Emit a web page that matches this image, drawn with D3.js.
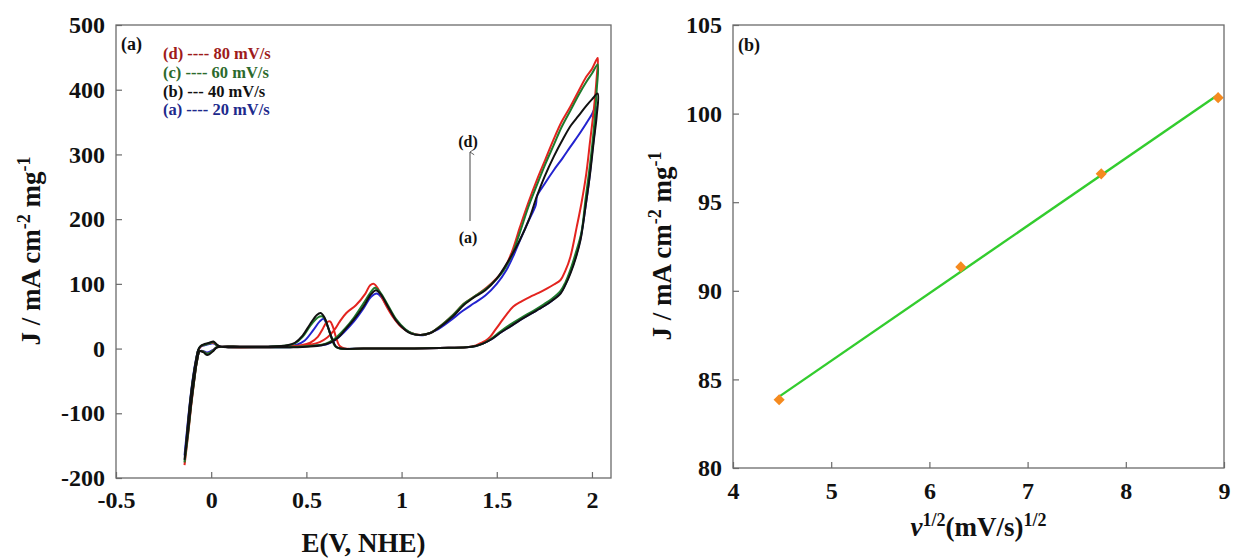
<!DOCTYPE html>
<html>
<head>
<meta charset="utf-8">
<script src="https://cdn.jsdelivr.net/npm/d3@7"></script>
<style>
  body { margin: 0; background: #fff; }
  svg { display: block; }
  text { font-family: "Liberation Serif", "Times New Roman", serif; font-weight: bold; fill: #111; }
</style>
</head>
<body>
<div id="chart"></div>
<script>
// ---- panel (a): cyclic voltammograms, [E (V), J] pairs, loop starts at the lowest potential
var cv20 = [
  [-0.14,-165],[-0.125,-120],[-0.11,-78],[-0.095,-43],[-0.08,-17],[-0.068,-2],[-0.055,3],[-0.035,5],[-0.01,7],[0.012,8],[0.03,5],[0.05,3],
  [0.1,2],[0.25,2],[0.4,2],[0.45,3],[0.52,4],[0.58,5],[0.62,8],[0.66,15],[0.7,26],[0.75,42],[0.8,62],[0.84,80],[0.87,85],[0.895,79],
  [0.93,62],[0.97,44],[1.02,29],[1.07,22],[1.12,21],[1.18,28],[1.25,42],[1.32,58],[1.38,70],[1.44,82],[1.5,100],[1.55,121],[1.59,145],
  [1.62,166],[1.665,196],[1.705,222],[1.712,236],[1.75,254],[1.8,276],[1.845,294],[1.887,312],[1.93,330],[1.97,348],[2.0,362],[2.02,374],
  [2.015,340],[2.0,300],[1.985,260],[1.966,219],[1.94,170],[1.915,142],[1.887,118],[1.86,99],[1.835,86],[1.79,74],[1.745,65],[1.68,54],
  [1.622,44],[1.57,34],[1.517,24],[1.47,14],[1.43,8],[1.39,4],[1.34,2],[1.2,1],[1.0,0],[0.8,0],[0.68,0],[0.655,3],[0.635,15],[0.615,32],
  [0.6,42],[0.59,46],[0.57,42],[0.535,28],[0.49,12],[0.45,6],[0.4,4],[0.3,3],[0.15,3],[0.06,3],[0.03,2],[0.01,-2],[-0.02,-6],[-0.04,-4],
  [-0.06,-4],[-0.075,-19],[-0.09,-48],[-0.105,-82],[-0.12,-120],[-0.14,-165]
];
var cv40 = [
  [-0.14,-172],[-0.125,-125],[-0.11,-80],[-0.095,-45],[-0.08,-18],[-0.068,-2],[-0.055,4],[-0.035,7],[-0.01,9],[0.012,11],[0.03,6],[0.05,3],
  [0.1,2],[0.25,2],[0.4,2],[0.5,3],[0.58,5],[0.63,10],[0.67,18],[0.7,28],[0.75,45],[0.8,65],[0.84,84],[0.865,90],[0.89,84],[0.93,64],
  [0.97,44],[1.01,31],[1.05,23],[1.1,21],[1.15,24],[1.2,33],[1.27,50],[1.33,68],[1.38,79],[1.44,90],[1.5,108],[1.56,135],[1.62,167],
  [1.67,200],[1.71,235],[1.75,265],[1.8,297],[1.85,325],[1.89,345],[1.93,360],[1.97,375],[2.0,385],[2.03,394],
  [2.025,360],[2.01,322],[1.99,270],[1.966,219],[1.94,168],[1.915,140],[1.887,116],[1.86,98],[1.835,85],[1.79,74],[1.745,65],[1.68,54],
  [1.622,44],[1.57,34],[1.517,24],[1.47,14],[1.43,8],[1.39,4],[1.34,2],[1.2,1],[1.0,0],[0.8,0],[0.68,0],[0.655,3],[0.635,15],[0.615,32],
  [0.595,48],[0.575,55],[0.555,52],[0.52,38],[0.48,20],[0.44,9],[0.4,5],[0.3,3],[0.15,3],[0.06,3],[0.03,2],[0.01,-4],[-0.02,-10],
  [-0.04,-6],[-0.06,-4],[-0.075,-20],[-0.09,-50],[-0.105,-85],[-0.12,-125],[-0.14,-172]
];
var cv60 = [
  [-0.14,-176],[-0.125,-128],[-0.11,-82],[-0.095,-46],[-0.08,-19],[-0.068,-2],[-0.055,4],[-0.035,6],[-0.01,8],[0.012,10],[0.03,5],[0.05,3],
  [0.1,2],[0.25,2],[0.4,2],[0.45,3],[0.52,4],[0.58,6],[0.62,10],[0.66,18],[0.7,30],[0.75,48],[0.8,70],[0.84,88],[0.86,94],[0.885,88],
  [0.93,66],[0.97,46],[1.02,30],[1.06,23],[1.1,21],[1.15,24],[1.2,34],[1.27,52],[1.33,70],[1.38,80],[1.45,94],[1.53,118],[1.58,145],
  [1.622,180],[1.665,218],[1.71,252],[1.755,285],[1.8,315],[1.84,342],[1.887,368],[1.93,392],[1.97,412],[2.0,425],[2.03,439],
  [2.025,400],[2.01,340],[1.99,285],[1.966,230],[1.945,180],[1.915,148],[1.887,122],[1.86,102],[1.835,89],[1.79,77],[1.745,68],[1.69,58],
  [1.63,48],[1.57,37],[1.517,26],[1.47,15],[1.43,8],[1.39,4],[1.34,2],[1.2,1],[1.0,0],[0.8,0],[0.675,0],[0.65,4],[0.63,18],[0.61,36],
  [0.595,47],[0.58,50],[0.56,48],[0.52,35],[0.48,18],[0.44,8],[0.4,5],[0.3,3],[0.15,3],[0.06,3],[0.03,2],[0.01,-3],[-0.02,-8],
  [-0.04,-5],[-0.06,-4],[-0.075,-20],[-0.09,-51],[-0.105,-86],[-0.12,-128],[-0.14,-176]
];
var cv80 = [
  [-0.14,-180],[-0.125,-130],[-0.11,-85],[-0.095,-48],[-0.08,-20],[-0.068,-3],[-0.055,3],[-0.035,6],[-0.01,8],[0.012,9],[0.03,5],[0.05,3],
  [0.1,2],[0.25,2],[0.4,3],[0.45,3],[0.52,6],[0.57,10],[0.61,17],[0.645,28],[0.676,42],[0.71,55],[0.76,67],[0.81,85],[0.835,98],[0.855,100],
  [0.875,93],[0.9,77],[0.95,51],[1.0,33],[1.05,24],[1.1,21],[1.15,24],[1.2,34],[1.27,52],[1.33,70],[1.38,80],[1.45,95],[1.534,121],
  [1.58,150],[1.622,188],[1.665,225],[1.71,260],[1.755,292],[1.797,322],[1.84,350],[1.887,374],[1.93,398],[1.97,420],[2.0,432],[2.03,449],
  [2.025,420],[2.01,370],[1.99,320],[1.97,270],[1.945,225],[1.92,188],[1.887,142],[1.86,120],[1.835,106],[1.8,99],[1.765,93],[1.72,86],
  [1.675,80],[1.63,73],[1.587,65],[1.55,52],[1.517,39],[1.49,28],[1.465,18],[1.44,12],[1.412,8],[1.38,4],[1.34,2],[1.2,1],[1.0,0],[0.8,0],
  [0.7,0],[0.675,4],[0.655,18],[0.64,33],[0.624,42],[0.605,40],[0.585,30],[0.56,18],[0.52,9],[0.47,5],[0.4,3],[0.3,3],[0.15,3],[0.06,3],
  [0.03,2],[0.01,-3],[-0.02,-8],[-0.04,-5],[-0.06,-4],[-0.075,-20],[-0.09,-52],[-0.105,-88],[-0.12,-130],[-0.14,-180]
];
var cvCurves = [
  { data: cv20, color: "#2323cf" },
  { data: cv80, color: "#e3241f" },
  { data: cv60, color: "#1e7a2c" },
  { data: cv40, color: "#111111" }
];
var legendLabels = ["(d) ---- 80 mV/s", "(c) ---- 60 mV/s", "(b) --- 40 mV/s", "(a) ---- 20 mV/s"];
var legendColors = ["#9e1b1b", "#2c6a2c", "#111111", "#1d2a8c"];
var cvXTicks = [-0.5, 0, 0.5, 1, 1.5, 2];
var cvYTicks = [-200, -100, 0, 100, 200, 300, 400, 500];

// ---- panel (b): peak current vs square root of scan rate
var sqrtRate = [4.47, 6.32, 7.75, 8.94];
var peakJ = [83.85, 91.35, 96.6, 100.9];
var fitXTicks = [4, 5, 6, 7, 8, 9];
var fitYTicks = [80, 85, 90, 95, 100, 105];

var W = 1233, H = 558;
var svg = d3.select("#chart").append("svg").attr("width", W).attr("height", H);

var defs = svg.append("defs");
defs.append("marker")
  .attr("id", "arrowHead")
  .attr("viewBox", "0 0 10 10")
  .attr("refX", 5).attr("refY", 2)
  .attr("markerWidth", 7).attr("markerHeight", 7)
  .attr("orient", "auto-start-reverse")
  .append("path")
  .attr("d", "M1,8 L5,2 L9,8")
  .attr("fill", "none")
  .attr("stroke", "#444")
  .attr("stroke-width", 1.2);

function drawFrame(g, x0, x1, y0, y1) {
  g.append("rect")
    .attr("x", x0).attr("y", y0)
    .attr("width", x1 - x0).attr("height", y1 - y0)
    .attr("fill", "none")
    .attr("stroke", "#6b6b6b")
    .attr("stroke-width", 1.3);
}

function styleAxis(sel) {
  sel.select(".domain").remove();
  sel.selectAll(".tick line").attr("stroke", "#6b6b6b").attr("stroke-width", 1.2);
  sel.selectAll(".tick text")
    .attr("fill", "#111")
    .style("font-family", "'Liberation Serif', serif")
    .style("font-weight", "bold")
    .style("font-size", "24px");
}

function yTitle(g, x, y) {
  var t = g.append("text")
    .attr("transform", "translate(" + x + "," + y + ") rotate(-90)")
    .attr("text-anchor", "middle")
    .style("font-size", "27px");
  t.append("tspan").text("J / mA cm");
  t.append("tspan").attr("dy", -10).style("font-size", "18px").text("-2");
  t.append("tspan").attr("dy", 10).text(" mg");
  t.append("tspan").attr("dy", -10).style("font-size", "18px").text("-1");
}

// ================= panel (a)
var xa = d3.scaleLinear().domain([-0.5, 2.1]).range([116, 611]);
var ya = d3.scaleLinear().domain([-200, 500]).range([478, 25]);
var ga = svg.append("g");

var cvLine = d3.line()
  .x(function(d) { return xa(d[0]); })
  .y(function(d) { return ya(d[1]); })
  .curve(d3.curveCatmullRom.alpha(0.5));

ga.selectAll("path.cv").data(cvCurves).enter()
  .append("path")
  .attr("class", "cv")
  .attr("d", function(d) { return cvLine(d.data); })
  .attr("fill", "none")
  .attr("stroke", function(d) { return d.color; })
  .attr("stroke-width", 2)
  .attr("stroke-linejoin", "round");

ga.append("g")
  .attr("transform", "translate(0," + ya.range()[0] + ")")
  .call(d3.axisBottom(xa).tickValues(cvXTicks).tickFormat(function(d) { return String(d); })
    .tickSizeInner(-6).tickSizeOuter(0).tickPadding(13))
  .call(styleAxis);

ga.append("g")
  .attr("transform", "translate(" + xa.range()[0] + ",0)")
  .call(d3.axisLeft(ya).tickValues(cvYTicks).tickFormat(function(d) { return String(d); })
    .tickSizeInner(-6).tickSizeOuter(0).tickPadding(11))
  .call(styleAxis);

drawFrame(ga, 116, 611, 25, 478);

ga.append("text").attr("x", 121).attr("y", 50).style("font-size", "18px").text("(a)");

ga.selectAll("text.legend").data(legendLabels).enter()
  .append("text")
  .attr("class", "legend")
  .attr("x", 163)
  .attr("y", function(d, i) { return 59 + i * 18.8; })
  .style("fill", function(d, i) { return legendColors[i]; })
  .style("font-size", "16.5px")
  .text(function(d) { return d; });

// arrow (a) -> (d)
ga.append("text").attr("x", 468).attr("y", 147).attr("text-anchor", "middle").style("font-size", "16px").text("(d)");
ga.append("text").attr("x", 468).attr("y", 243).attr("text-anchor", "middle").style("font-size", "16px").text("(a)");
ga.append("line")
  .attr("x1", 470).attr("y1", 221)
  .attr("x2", 470).attr("y2", 152)
  .attr("stroke", "#444").attr("stroke-width", 1)
  .attr("marker-end", "url(#arrowHead)");

ga.append("text")
  .attr("x", 363.5).attr("y", 552)
  .attr("text-anchor", "middle")
  .style("font-size", "27px")
  .text("E(V, NHE)");

yTitle(ga, 40, 251);

// ================= panel (b)
var xb = d3.scaleLinear().domain([4, 9]).range([733, 1224]);
var yb = d3.scaleLinear().domain([80, 105]).range([468, 25]);
var gb = svg.append("g");

// least squares fit through the four points
var mx = d3.mean(sqrtRate), my = d3.mean(peakJ);
var sxy = d3.sum(sqrtRate, function(v, i) { return (v - mx) * (peakJ[i] - my); });
var sxx = d3.sum(sqrtRate, function(v) { return (v - mx) * (v - mx); });
var slope = sxy / sxx, icpt = my - slope * mx;
var fitEnds = d3.extent(sqrtRate);

gb.append("line")
  .attr("x1", xb(fitEnds[0])).attr("y1", yb(icpt + slope * fitEnds[0]))
  .attr("x2", xb(fitEnds[1])).attr("y2", yb(icpt + slope * fitEnds[1]))
  .attr("stroke", "#33cc2e").attr("stroke-width", 2.4);

gb.selectAll("path.pt").data(sqrtRate).enter()
  .append("path")
  .attr("class", "pt")
  .attr("d", d3.symbol().type(d3.symbolSquare).size(62))
  .attr("transform", function(d, i) { return "translate(" + xb(d) + "," + yb(peakJ[i]) + ") rotate(45)"; })
  .attr("fill", "#f58a1f");

gb.append("g")
  .attr("transform", "translate(0," + yb.range()[0] + ")")
  .call(d3.axisBottom(xb).tickValues(fitXTicks).tickFormat(d3.format("d"))
    .tickSizeInner(-6).tickSizeOuter(0).tickPadding(14))
  .call(styleAxis);

gb.append("g")
  .attr("transform", "translate(" + xb.range()[0] + ",0)")
  .call(d3.axisLeft(yb).tickValues(fitYTicks).tickFormat(d3.format("d"))
    .tickSizeInner(-6).tickSizeOuter(0).tickPadding(11))
  .call(styleAxis);

drawFrame(gb, 733, 1224, 25, 468);

gb.append("text").attr("x", 738).attr("y", 51).style("font-size", "18px").text("(b)");

var tbx = gb.append("text")
  .attr("x", 978.5).attr("y", 536)
  .attr("text-anchor", "middle")
  .style("font-size", "27px");
tbx.append("tspan").style("font-style", "italic").text("v");
tbx.append("tspan").attr("dy", -10).style("font-size", "18px").text("1/2");
tbx.append("tspan").attr("dy", 10).text("(mV/s)");
tbx.append("tspan").attr("dy", -10).style("font-size", "18px").text("1/2");

yTitle(gb, 671, 246);
</script>
</body>
</html>
